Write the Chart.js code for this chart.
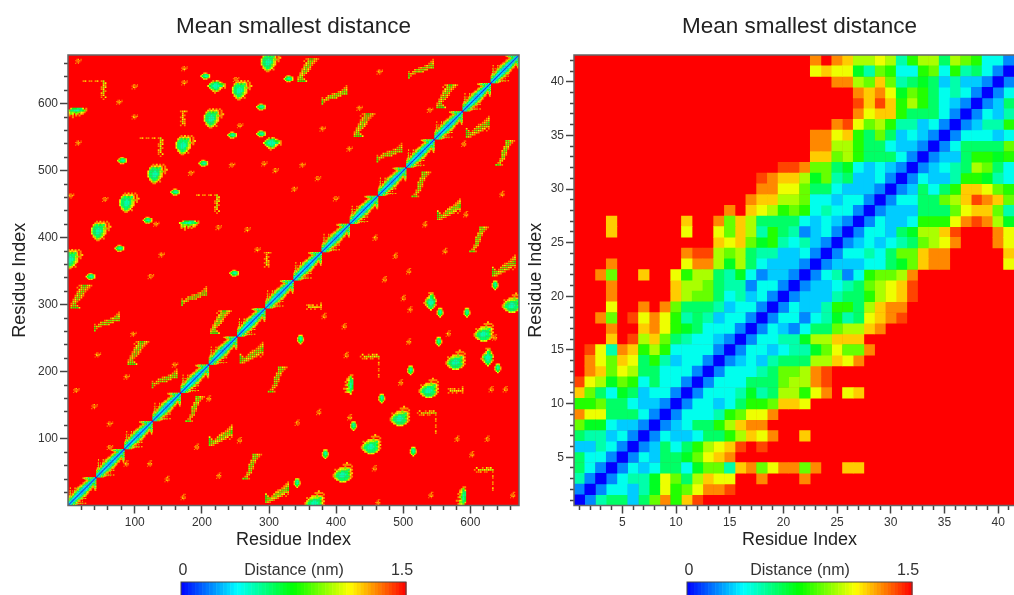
<!DOCTYPE html>
<html>
<head>
<meta charset="utf-8">
<title>Mean smallest distance</title>
<script src="https://cdn.jsdelivr.net/npm/chart.js@4"></script>
<style>
  html, body { margin: 0; width: 1014px; height: 595px; overflow: hidden; background: #fff; }
  canvas { position: absolute; top: 0; filter: blur(0.5px); }
  #whole-map { left: 0; }
  #one-chain { left: 506px; }
</style>
</head>
<body>
<canvas id="whole-map" width="530" height="595"></canvas>
<canvas id="one-chain" width="530" height="595"></canvas>
<script>
const chartTitle = 'Mean smallest distance';
const axisTitle = 'Residue Index';
const colorbarTitle = 'Distance (nm)';
const colorbarMin = 0;
const colorbarMax = 1.5;

// ticks, whole map (16 chains) and single chain
const mapTicks = [20,40,60,80,100,120,140,160,180,200,220,240,260,280,300,320,340,360,380,400,420,440,460,480,500,520,540,560,580,600,620,640,660];
const mapLabels = [100,200,300,400,500,600];
const chainTicks = [1,2,3,4,5,6,7,8,9,10,11,12,13,14,15,16,17,18,19,20,21,22,23,24,25,26,27,28,29,30,31,32,33,34,35,36,37,38,39,40,41,42];
const chainLabels = [5,10,15,20,25,30,35,40];

// residue offset of each chain on the whole map
const chainStarts = [0,42,84,126,168,210,252,294,336,378,420,462,504,546,588,630];

// single chain distances in nm. Row n holds the values up to the diagonal,
// right aligned (last value is residue n vs n), anything further left is 1.5
const chainRows = [
  [0],
  [.2,0],
  [.5,.2,0],
  [.6,.4,.2,0],
  [.6,.4,.4,.2,0],
  [.3,.3,.5,.4,.2,0],
  [.6,.5,.5,.3,.4,.2,0],
  [.9,.7,.7,.4,.3,.3,.2,0],
  [1.3,1.1,1.1,.6,.6,.6,.4,.2,0],
  [.8,.8,.9,.6,.6,.4,.3,.3,.2,0],
  [1.2,.9,.6,.4,.7,.6,.3,.4,.4,.2,0],
  [1.4,1.1,1,.7,.9,.8,.4,.6,.4,.4,.2,0],
  [1.3,1.2,.9,1.1,1,.6,.6,.4,.4,.4,.2,0],
  [1.3,1.1,.9,1.2,1.1,.6,.8,.5,.3,.4,.4,.2,0],
  [1.4,1.1,.5,1.3,1.2,.8,1,.8,.4,.4,.4,.4,.2,0],
  [1.2,1.5,1.4,1,1.2,.9,.6,.5,.4,.4,.3,.2,0],
  [1.3,1.5,1.5,1.2,1.3,1.1,.8,.7,.6,.4,.4,.4,.2,0],
  [1.3,.9,1.5,1.4,1.1,1.3,1.1,.8,.5,.6,.5,.3,.4,.4,.2,0],
  [1.1,1.5,1.5,1.3,1.5,1.3,.9,.6,.6,.6,.5,.3,.4,.4,.2,0],
  [1.3,1.5,1.5,1.5,1.5,1.5,1.2,1,.9,.9,.6,.4,.5,.3,.4,.2,0],
  [1.3,1.5,1.5,1.5,1.5,1.5,1.2,1,1,.9,.6,.5,.5,.2,.4,.4,.2,0],
  [1.3,.9,1.5,1.5,1.2,1.5,1.5,1.1,.8,1,1,.6,.5,.7,.4,.2,.3,.3,.2,0],
  [1.3,1.5,1.5,1.5,1.5,1.5,1.5,1.1,1.3,1.3,1,.7,1,.6,.4,.3,.3,.3,.2,0],
  [1.3,1.4,1.4,1,.9,1,.6,.5,.5,.3,.3,.4,.2,0],
  [1.2,1.1,1.2,.9,.7,.8,.5,.4,.5,.3,.2,0],
  [1.2,1.5,1.5,1.5,1.5,1.5,1.5,1.1,1.5,1.5,1.1,.9,1.2,1,.5,.8,.6,.5,.2,.3,.4,.2,0],
  [1.2,1.5,1.5,1.5,1.5,1.5,1.5,1.2,1.5,1.5,1.3,.9,1.2,1,.6,.6,.6,.6,.4,.3,.4,.3,.2,0],
  [1.3,1.5,1.2,1.1,1,.8,.9,.8,.4,.5,.4,.4,.2,0],
  [1.3,1.2,1.2,1,1,.9,.4,.4,.3,.4,.4,.2,0],
  [1.3,1.3,1.1,1.1,.9,.6,.6,.4,.3,.3,.3,.2,0],
  [1.4,1.3,1.2,1.2,1,.7,.9,.5,.6,.3,.3,.4,.2,0],
  [1.4,1.4,1.3,.9,.9,.6,.7,.4,.3,.4,.3,.2,0],
  [1.2,1.2,.9,1,.8,.6,.6,.6,.4,.2,0],
  [1.3,1.3,1,1,.8,.6,.6,.4,.3,.3,.2,0],
  [1.3,1.3,1.1,1.2,.8,.6,.9,.6,.3,.4,.3,.2,0],
  [1.3,1.4,1.1,.9,1,.8,.5,.5,.3,.4,.2,0],
  [1.3,1.1,1.2,1.2,.8,.6,.6,.6,.4,.2,0],
  [1.4,1.2,1.4,1.2,.8,1,.8,.6,.4,.3,.2,0],
  [1.3,1.2,1.3,1.1,.7,.9,.8,.6,.4,.5,.4,.2,0],
  [1.3,1.3,1,.9,1.2,.9,.5,.6,.7,.6,.3,.5,.3,.3,.2,0],
  [1.1,1.2,1.1,1.1,.7,.5,.9,.8,.4,.4,.8,.9,.4,.8,.5,.6,.4,.2,0],
  [1.3,1.5,1.3,1.2,1,1,1.1,1,.5,.8,1,1,.6,1,.9,.8,.4,.4,.2,0]
];

// contact patches between chains, one character per bin:
// distance in tenths of a nm (hex), '.' means no contact
const tallPatch = [
  '...d.c.d.d..',
  '..cdbdcbd.d.',
  '.c969796c.d.',
  '.9666669c.dc',
  'b666566a9dd.',
  'b665556ac.d.',
  'a665556ac...',
  'b665569bc...',
  '.a66669c....',
  '.ca669b.....',
  '..c9ac.d....',
  '...dd.......'
];
const roundPatch = [
  '...d.cd....',
  '..c9767bd..',
  '.a66556789d',
  'b76555566bd',
  '.a66556bc.d',
  '..b9769c...',
  '...cdad....',
  '....d......'
];
const smallPatch = [
  '..dcd..',
  '.c8669c',
  'b76556b',
  '.b7769c',
  '..cdc..'
];
const flatPatch = [
  '..c777666b.d',
  'b9665556679d',
  '.b9a9899bcd.',
  '.c9b.ad.cd..',
  '.d.d.d.d....',
  '...d........'
];
const risingPatch = [
  '............d.',
  '...........dc.',
  '..........d9b.',
  '........db999.',
  '.....dc99a9a9.',
  '...c9a99ac....',
  'd.ca9a9c......',
  '9cad..........',
  '8d............',
  '9.............'
];
const steepPatch = [
  '....dc88abd.',
  '...d.a99cd..',
  '....ba9cd...',
  '...db99d....',
  '...a99c.....',
  '..db9bd.....',
  '..a99c......',
  '.db9c.......',
  '.abd........',
  'da9.........',
  'c99c........',
  '9887b.......'
];
const cornerPatch = [
  'dc.dd.dc.da.',
  '..........ab',
  '..........bd',
  '.........dab',
  '.........db.',
  '..........ad',
  '.........ca.',
  '.........db.',
  '.........d.b',
  '..........d.'
];
const columnPatch = [
  'dcbd',
  '.c..',
  '.bd.',
  'db..',
  '.bc.',
  'dad.',
  '.bc.',
  'd.d.'
];
const faintPatch = [
  '.dc.d',
  'dcdcd',
  '.cbd.',
  'd.d..'
];

// where each patch sits on the map, [residue x, residue y], y > x only
const tallSpots = [[260,620],[218,578],[176,538],[134,495],[92,452],[50,410],[8,368],[303,662]];
const roundSpots = [[222,625],[305,540]];
const smallSpots = [[205,641],[245,553],[81,515],[202,511],[160,468],[119,426],[77,384],[34,342],[248,347],[329,637],[288,595],[288,555]];
const flatSpots = [[14,586],[181,418]];
const risingSpots = [[528,652],[399,613],[481,527],[60,275],[190,313],[146,190]];
const steepSpots = [[360,650],[567,611],[444,568],[22,312],[230,274],[107,228]];
const cornerSpots = [[40,620],[125,535],[209,450]];
const columnSpots = [[173,578],[298,367]];
const faintSpots = [[16,663],[100,625],[100,580],[56,457],[140,374],[5,462],[174,631],[174,652],[16,541],[184,496],[245,508],[268,412],[225,415],[132,420],[124,342],[257,567],[251,636],[283,382],[13,172],[98,256],[45,225],[160,210],[77,602],[465,647],[435,593],[540,590],[380,562],[420,532],[350,508],[310,500],[293,510],[373,488],[400,458],[338,472],[63,122],[40,148],[88,192],[63,87]];

// blue - cyan - green - yellow - red over 0..1.5 nm
function colorFor(v) {
  const stops = [[0,0,255],[0,255,255],[0,255,0],[255,255,0],[255,0,0]];
  const t = Math.min(Math.max((v - colorbarMin) / (colorbarMax - colorbarMin), 0), 1) * 4;
  const i = Math.min(Math.floor(t), 3);
  const f = t - i;
  const c = stops[i].map((s, k) => Math.round(s + (stops[i + 1][k] - s) * f));
  return `rgb(${c[0]},${c[1]},${c[2]})`;
}

function chainCells(start) {
  const cells = [];
  chainRows.forEach((row, n) => {
    const first = n + 1 - row.length;
    row.forEach((v, k) => {
      if (v >= colorbarMax) return;
      const x = start + first + k + 1;
      const y = start + n + 1;
      cells.push({x, y, v});
      if (x !== y) cells.push({x: y, y: x, v});
    });
  });
  return cells;
}

function patchCells(rows, spots, bin) {
  const cells = [];
  spots.forEach(([sx, sy]) => {
    rows.forEach((row, r) => {
      [...row].forEach((ch, c) => {
        if (ch === '.') return;
        const v = parseInt(ch, 16) / 10;
        const x = sx + (c - (row.length - 1) / 2) * bin;
        const y = sy + ((rows.length - 1) / 2 - r) * bin;
        cells.push({x, y, v});
        cells.push({x: y, y: x, v});
      });
    });
  });
  return cells;
}

const byDistance = (a, b) => b.v - a.v;

const mapFaint = patchCells(faintPatch, faintSpots, 2);
const mapSmall = patchCells(smallPatch, smallSpots, 2).sort(byDistance);
const mapBlobs = [
  ...patchCells(flatPatch, flatSpots, 2.5),
  ...patchCells(roundPatch, roundSpots, 2.5),
  ...patchCells(tallPatch, tallSpots, 2.5)
].sort(byDistance);
const mapStreaks = [
  ...patchCells(columnPatch, columnSpots, 3),
  ...patchCells(cornerPatch, cornerSpots, 3),
  ...patchCells(steepPatch, steepSpots, 3),
  ...patchCells(risingPatch, risingSpots, 3)
].sort(byDistance);
const mapBand = chainStarts.flatMap(chainCells);
const singleChain = chainCells(0).sort(byDistance);

// draws the red background, the frame and the colour bar
const mapDecor = {
  id: 'mapDecor',
  beforeDatasetsDraw(chart) {
    const {ctx, chartArea: a} = chart;
    ctx.save();
    ctx.fillStyle = colorFor(colorbarMax);
    ctx.fillRect(a.left, a.top, a.right - a.left, a.bottom - a.top);
    ctx.restore();
  },
  afterDraw(chart) {
    const {ctx, chartArea: a} = chart;
    ctx.save();
    ctx.strokeStyle = '#666';
    ctx.lineWidth = 1.5;
    ctx.strokeRect(a.left, a.top, a.right - a.left, a.bottom - a.top);

    // colour bar, runs off the bottom of the page
    const left = 181, right = 406, top = 582, steps = 64;
    for (let i = 0; i < steps; i++) {
      ctx.fillStyle = colorFor(colorbarMin + (colorbarMax - colorbarMin) * (i + 0.5) / steps);
      ctx.fillRect(left + (right - left) * i / steps, top, (right - left) / steps + 0.5, 20);
    }
    ctx.strokeStyle = '#444';
    ctx.lineWidth = 1;
    ctx.strokeRect(left, top, right - left, 20);

    ctx.fillStyle = '#333';
    ctx.font = '16px "Liberation Sans"';
    ctx.textBaseline = 'middle';
    ctx.textAlign = 'center';
    ctx.fillText(String(colorbarMin), 183, 571);
    ctx.fillText(colorbarTitle, 294, 571);
    ctx.fillText(String(colorbarMax), 402, 571);
    ctx.restore();
  }
};

function axisOptions(range, ticks, labels, vertical, titlePad) {
  const isLabelled = ctx => ctx.tick && labels.includes(ctx.tick.value);
  return {
    type: 'linear',
    min: range[0],
    max: range[1],
    afterBuildTicks: scale => { scale.ticks = ticks.map(value => ({value})); },
    afterFit: scale => {
      if (vertical) scale.width = 68; else scale.height = 89.5;
    },
    border: { display: false },
    grid: {
      drawOnChartArea: false,
      tickLength: 8,
      tickWidth: 1.5,
      tickColor: '#444',
      // the short ticks: only the half next to the frame is inked
      tickBorderDash: ctx => (isLabelled(ctx) ? [] : (vertical ? [4, 4] : [4, 8])),
      tickBorderDashOffset: ctx => (isLabelled(ctx) || !vertical ? 0 : 4)
    },
    ticks: {
      autoSkip: false,
      maxRotation: 0,
      padding: 2,
      color: '#333',
      font: { family: '"Liberation Sans"', size: 12 },
      callback: value => (labels.includes(value) ? String(value) : '')
    },
    title: {
      display: true,
      text: axisTitle,
      color: '#222',
      font: { family: '"Liberation Sans"', size: 18 },
      padding: titlePad
    }
  };
}

// overlap is in pixels, so neighbouring cells leave no seam
function cellDataset(cells, residues, overlap) {
  return {
    data: cells,
    pointStyle: 'rect',
    pointBorderWidth: 0,
    pointHoverRadius: 0,
    pointBackgroundColor: ctx => colorFor(ctx.raw.v),
    // rect markers have a side of radius * sqrt(2)
    pointRadius: ctx => {
      const s = ctx.chart.scales.x;
      return (residues * s.width / (s.max - s.min) + overlap) / Math.SQRT2;
    }
  };
}

function heatmap(id, datasets, range, ticks, labels, yTitlePad) {
  return new Chart(document.getElementById(id), {
    type: 'scatter',
    data: { datasets },
    plugins: [mapDecor],
    options: {
      responsive: false,
      animation: false,
      events: [],
      devicePixelRatio: 1,
      layout: { padding: { right: 11 } },
      plugins: {
        legend: { display: false },
        tooltip: { enabled: false },
        title: {
          display: true,
          text: chartTitle,
          fullSize: false,
          color: '#222',
          font: { family: '"Liberation Sans"', size: 22.5, weight: 'normal', lineHeight: 1.2 },
          padding: { top: 13.5, bottom: 14.5 }
        }
      },
      scales: {
        x: axisOptions(range, ticks, labels, false, 44),
        y: axisOptions(range, ticks, labels, true, yTitlePad)
      }
    }
  });
}

heatmap('whole-map', [
  cellDataset(mapStreaks, 2, 0.35),
  cellDataset(mapFaint, 2, -0.2),
  cellDataset(mapSmall, 2, 0.4),
  cellDataset(mapBlobs, 2.5, 0.3),
  cellDataset(mapBand, 1, 0.3)
], [0.5, 672.5], mapTicks, mapLabels, 9);
heatmap('one-chain', [cellDataset(singleChain, 1, 0.5)], [0.5, 42.5], chainTicks, chainLabels, 19);
</script>
</body>
</html>
